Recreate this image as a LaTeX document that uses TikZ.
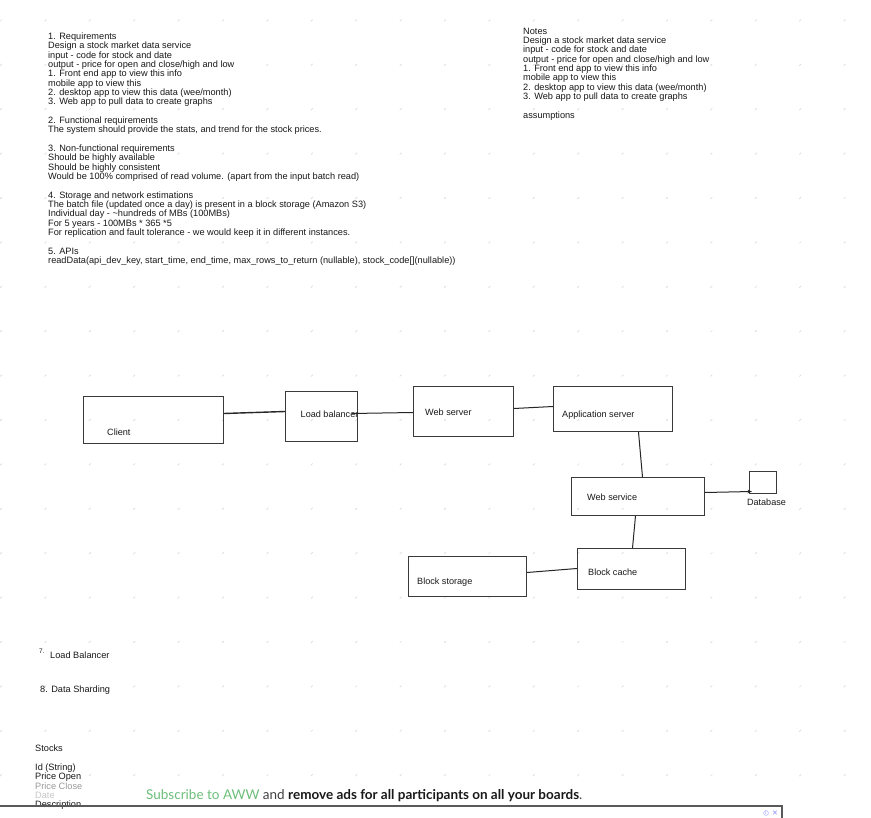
\documentclass[tikz,border=0pt]{standalone}
\usepackage{fontspec}
\setmainfont{Liberation Sans}
\newfontfamily\latofont{Lato}
\newfontfamily\symfont{DejaVu Sans}
\usetikzlibrary{arrows.meta}
\definecolor{aww}{HTML}{6DBE7A}
\definecolor{boxline}{HTML}{3A3A3A}
\AtBeginDocument{\lineskiplimit=-6pt\relax}
\begin{document}
\begin{tikzpicture}[x=1pt,y=-1pt,
  txt/.style={inner sep=0pt, anchor=base west, align=left, font=\fontsize{9.2}{9.33}\selectfont, text=black!90},
  block/.style={txt, anchor=north west},
  box/.style={draw=boxline, line width=1pt, inner sep=0pt, anchor=north west},
  conn/.style={draw=black!85, line width=1pt},
  lbl/.style={inner sep=0pt, anchor=base west, font=\fontsize{9.1}{10}\selectfont, text=black!90},
  gridmark/.style={draw=black!18, line width=0.5pt}]
\fill[white] (0,0) rectangle (871,818);
\useasboundingbox (0,0) rectangle (871,818);
% faint whiteboard grid
\foreach \i in {0,...,19}{
  \foreach \j in {0,...,17}{
    \draw[gridmark] ({1+44.4*\i-0.9},{20.4+44.4*\j+0.9}) -- ({1+44.4*\i+0.9},{20.4+44.4*\j-0.9});
  }
}
% top-left text
\node[block] (req) at (48,32.6) {1. Requirements\\ Design a stock market data service\\ input - code for stock and date\\ output - price for open and close/high and low\\ 1. Front end app to view this info\\ mobile app to view this\\ 2. desktop app to view this data (wee/month)\\ 3. Web app to pull data to create graphs\\[9.33pt] 2. Functional requirements\\ The system should provide the stats, and trend for the stock prices.\\[9.33pt] 3. Non-functional requirements\\ Should be highly available\\ Should be highly consistent\\ Would be 100\% comprised of read volume. (apart from the input batch read)\\[9.33pt] 4. Storage and network estimations\\ The batch file (updated once a day) is present in a block storage (Amazon S3)\\ Individual day - \textasciitilde hundreds of MBs (100MBs)\\ For 5 years - 100MBs * 365 *5\\ For replication and fault tolerance - we would keep it in different instances.\\[9.33pt] 5. APIs\\ readData(api\_dev\_key, start\_time, end\_time, max\_rows\_to\_return (nullable), stock\_code[](nullable))};
% notes
\node[block] (notes) at (523,27.6) {Notes\\ Design a stock market data service\\ input - code for stock and date\\ output - price for open and close/high and low\\ 1. Front end app to view this info\\ mobile app to view this\\ 2. desktop app to view this data (wee/month)\\ 3. Web app to pull data to create graphs\\[9.33pt] assumptions};
% boxes
\node[box, minimum width=140pt, minimum height=47pt] (client) at (83,396) {};
\node[box, minimum width=72pt, minimum height=50pt] (lb) at (285,391) {};
\node[box, minimum width=100pt, minimum height=50pt] (ws) at (413,386) {};
\node[box, minimum width=119pt, minimum height=45pt] (app) at (553,386) {};
\node[box, minimum width=133pt, minimum height=38pt] (wsvc) at (571,477) {};
\node[box, minimum width=27pt, minimum height=22pt] (db) at (749,471) {};
\node[box, minimum width=108pt, minimum height=41pt] (cache) at (577,548) {};
\node[box, minimum width=118pt, minimum height=40pt] (storage) at (408,556) {};
% labels
\node[lbl] (clientlbl) at (107,435.3) {Client};
\node[lbl] (lblbl) at (300.5,417.3) {Load balancer};
\node[lbl] (wslbl) at (425,415.3) {Web server};
\node[lbl] (applbl) at (562,417.3) {Application server};
\node[lbl] (wsvclbl) at (587,500.3) {Web service};
\node[lbl, anchor=base] (dblbl) at (766.5,505.3) {Database};
\node[lbl] (cachelbl) at (588,575.3) {Block cache};
\node[lbl] (storagelbl) at (417,584.3) {Block storage};
% connectors
\draw[conn, line width=1.4pt] ([yshift=6.5pt]client.east) -- ([yshift=5pt]lb.west);
\draw[conn] ([xshift=-6pt,yshift=3pt]lb.east) -- ([yshift=-1pt]ws.west);
\draw[conn] ([yshift=3pt]ws.east) -- ([yshift=2.5pt]app.west);
\draw[conn] ([xshift=25.5pt]app.south) -- ([xshift=4.5pt]wsvc.north);
\draw[conn, -{Stealth[length=4.5pt,width=3.5pt]}] ([yshift=4pt]wsvc.east) -- ([xshift=3pt,yshift=-9pt]db.west);
\draw[conn] ([xshift=-2.5pt]wsvc.south) -- ([xshift=1pt]cache.north);
\draw[conn] ([yshift=4pt]storage.east) -- ([yshift=0.5pt]cache.west);
% bottom-left notes
\node[txt, font=\fontsize{6.5}{7}\selectfont] (seven) at (39,653.5) {7.};
\node[txt] (lbnote) at (50,658.3) {Load Balancer};
\node[txt] (shard) at (40,692.3) {8. Data Sharding};
\node[txt] (stocks) at (35,751.3) {Stocks};
\node[block] (fields) at (35,763.5) {Id (String)\\ Price Open\\ \textcolor{black!40}{Price Close}\\ \textcolor{black!22}{Date}\\ Description};
% banner
\node[inner sep=0pt, anchor=base west, font=\latofont\fontsize{13.5}{14}\selectfont] (ad) at (146,799) {\textcolor{aww}{Subscribe to AWW} \textcolor{black!75}{and} \textbf{\textcolor{black!90}{remove ads for all participants on all your boards}}\textcolor{black!75}{.}};
\coordinate (adL) at (0,806);
\coordinate (adR) at (782,806);
\coordinate (adB) at (782,818);
\draw[black!65, line width=1.3pt] (adL) -- (adR) -- (adB);
\node[circle, draw=blue!35, line width=0.4pt, inner sep=0.4pt, text=blue!45, font=\fontsize{5}{5}\selectfont] (info) at (766,813) {i};
\node[inner sep=0pt, text=blue!45, font=\symfont\fontsize{7}{7}\selectfont] (close) at (775,813) {✕};
\end{tikzpicture}
\end{document}
